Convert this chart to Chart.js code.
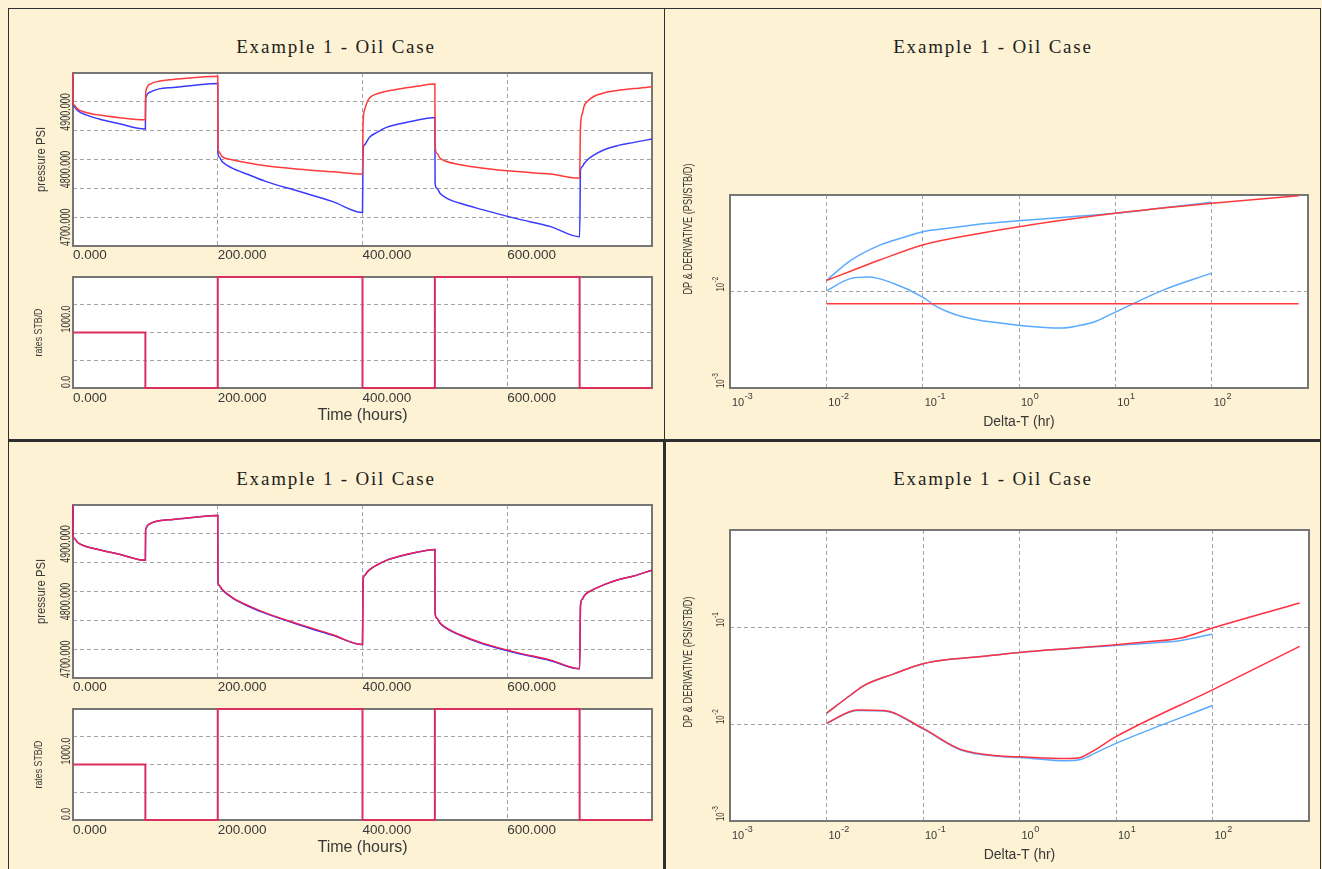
<!DOCTYPE html>
<html><head><meta charset="utf-8">
<script src="https://cdn.jsdelivr.net/npm/chart.js@4/dist/chart.umd.min.js"></script>
<style>
html,body{margin:0;padding:0;background:#fdf2d3;}
body{width:1322px;height:869px;position:relative;overflow:hidden;}
.ln{position:absolute;background:#2e2e2e;}
.title{position:absolute;font-family:'Liberation Serif','Times New Roman',serif;font-size:19px;letter-spacing:1.8px;color:#1e1e1e;transform:translate(-50%,-50%);white-space:nowrap;}
canvas{position:absolute;}
</style></head><body>
<div class="ln" style="left:8px;top:8px;width:1313px;height:1px;"></div>
<div class="ln" style="left:8px;top:8px;width:1px;height:861px;"></div>
<div class="ln" style="left:1320px;top:8px;width:1px;height:861px;"></div>
<div class="ln" style="left:664px;top:8px;width:1px;height:432px;"></div>
<div class="ln" style="left:663px;top:440px;width:3px;height:429px;"></div>
<div class="ln" style="left:8px;top:439px;width:1313px;height:3px;"></div>
<div class="title" style="left:336px;top:47px;">Example 1 - Oil Case</div>
<div class="title" style="left:993px;top:47px;">Example 1 - Oil Case</div>
<div class="title" style="left:336px;top:479px;">Example 1 - Oil Case</div>
<div class="title" style="left:993px;top:479px;">Example 1 - Oil Case</div>
<script>
// ---------- DATA ----------
// time (hours) samples used for the pressure histories
const timeHours = [0,0.1,1.2,6,17,36,64,100,
  100.3,101,103,108,119,138,165,200,
  200.3,201.5,206,220,243,266,313,359,400,
  400.8,403,406,410,420,433,452,475,500,
  500.3,502.6,507,516,535,567,614,660,700,
  701.2,704,706,711,720,734,752,775,800];
// top-left pressure (psi)
const pressureTopRed = [5000,4951,4945,4937.7,4932,4927,4922.6,4919,
  4960,4970,4977,4981.7,4985.8,4988.7,4991.6,4994.5,
  4876,4864,4855,4849.6,4843.8,4839,4833,4828.7,4824.7,
  4913,4936.5,4948,4957,4964,4968.5,4972.5,4977,4981,
  4875.6,4861,4852.5,4846.6,4841,4835,4829,4824.7,4817.7,
  4907.5,4930.7,4942,4951,4959.7,4965.6,4969.6,4973,4976];
const pressureTopBlue = [5000,4948,4942,4935.3,4927.8,4920.3,4912,4903,
  4951,4958.6,4963.8,4967.8,4972.5,4974.8,4978.3,4981.7,
  4861,4855,4846.6,4835,4823.5,4812,4794.5,4777,4758,
  4867,4875.6,4881.4,4889,4897,4905.8,4912,4918,4923,
  4809,4800,4791.6,4783,4774,4762.6,4747,4733.6,4716,
  4832,4838,4842.6,4849.6,4858,4867,4874,4879.7,4885.5];
// bottom-left pressure (psi)
const pressureBotRed = [5000,4949,4943,4935.5,4928.5,4922.5,4914.5,4904,
  4955,4960,4964.5,4968.5,4972.5,4975,4978.5,4982,
  4871,4862,4854,4840,4825,4813,4793,4775,4758,
  4871,4878,4883,4888,4896,4904,4911.5,4918,4923,
  4813,4804,4796,4787,4775,4760,4744,4731,4716,
  4826,4837,4842,4848,4854,4862,4870,4877,4887];
const pressureBotBlue = [5000,4949,4943,4935.5,4928.5,4922.5,4914.5,4904,
  4955,4960,4964.5,4968.5,4972.5,4975,4978.5,4982,
  4870,4861,4853,4839,4824,4812,4792,4774,4758,
  4871,4878,4883,4888,4896,4904,4911,4918,4923,
  4813,4804,4795,4786,4774,4759,4743,4730,4716,
  4826,4837,4842,4848,4854,4862,4870,4877,4887];
// rate history (STB/D), each rate starts at the listed time
const rateTimes = [0,100,200,400,500,700,800];
const rates = [1000,0,2000,0,2000,0,0];
// axis ticks and labels
const timeTicks = [0,200,400,600];
const timeTickLabels = ['0.000','200.000','400.000','600.000'];
const pressureTicks = [4700,4800,4900];
const pressureTickLabels = ['4700.000','4800.000','4900.000'];
const rateTicks = [0,1000];
const rateTickLabels = ['0.0','1000.0'];
const logXExponents = [-3,-2,-1,0,1,2];
const logYExponentsTop = [-3,-2];
const logYExponentsBot = [-3,-2,-1];
// top-right log-log (Delta-T hr, psi/STB/D)
const dtTopBlueUp = [0.01,0.0178,0.0364,0.063,0.1,0.2,0.4,1,3,10,30,100];
const dpTopBlueUp = [0.0130,0.0209,0.0304,0.0363,0.0417,0.0457,0.0501,0.0542,0.0589,0.0646,0.0733,0.0841];
const dtTopRedUp = [0.01,0.0178,0.0364,0.1,0.4,1,10,100,800];
const dpTopRedUp = [0.0130,0.0162,0.0213,0.0304,0.0402,0.0470,0.0646,0.0820,0.0984];
const dtTopBlueLow = [0.01,0.0178,0.0275,0.05,0.1,0.13,0.179,0.267,0.4,0.64,1,2.7,4.3,6,10,31.8,100];
const derTopBlueLow = [0.01016,0.0136,0.0141,0.0121,0.00875,0.00728,0.00621,0.00543,0.00500,0.00471,0.00446,0.00418,0.00446,0.00483,0.00612,0.0104,0.0155];
const dtTopRedLow = [0.01,800];
const derTopRedLow = [0.00746,0.00746];
// bottom-right log-log
const dtBotUpRed = [0.01,0.0178,0.0244,0.05,0.1,0.2,0.4,1,10,20,47.3,100,800];
const dpBotUpRed = [0.0129,0.0199,0.0249,0.0329,0.0418,0.0467,0.0497,0.0546,0.0656,0.0700,0.0769,0.0977,0.177];
const dtBotUpBlue = [0.01,0.0178,0.0244,0.05,0.1,0.2,0.4,1,10,20,47.3,100];
const dpBotUpBlue = [0.0129,0.0199,0.0249,0.0329,0.0418,0.0467,0.0497,0.0546,0.0646,0.0676,0.0727,0.0847];
const dtBotLowRed = [0.01,0.0208,0.0394,0.1,0.246,0.64,1,3.12,4.3,5,6,10,100,800];
const derBotLowRed = [0.01016,0.01396,0.01374,0.00902,0.00547,0.00467,0.00459,0.00442,0.00452,0.00485,0.00538,0.0074,0.0225,0.0631];
const dtBotLowBlue = [0.01,0.0208,0.0394,0.1,0.246,0.64,1,3.12,4.3,5,6,10,100];
const derBotLowBlue = [0.01016,0.0138,0.0136,0.0089,0.0054,0.00462,0.00452,0.00418,0.00431,0.00455,0.00498,0.00631,0.0155];

// ---------- RENDERING ----------
const F = "'Liberation Sans', Arial, sans-serif";
const GRID = '#a3a3a3';
const pts = (xs, ys) => xs.map((x, i) => ({x, y: ys[i]}));

const labelPlugin = {
  id: 'axisLabels',
  beforeDraw(chart, args, o) {
    if (!o || !o.kind) return;
    const ctx = chart.ctx, a = chart.chartArea;
    ctx.save(); ctx.fillStyle = '#ffffff';
    ctx.fillRect(a.left, a.top, a.right - a.left, a.bottom - a.top); ctx.restore();
  },
  beforeDatasetsDraw(chart, args, o) {
    if (!o || !o.kind) return;
    const ctx = chart.ctx, a = chart.chartArea;
    ctx.save(); ctx.strokeStyle = '#767676'; ctx.lineWidth = 2;
    ctx.strokeRect(a.left, a.top, a.right - a.left, a.bottom - a.top); ctx.restore();
  },
  afterDraw(chart, args, o) {
    if (!o || !o.kind) return;
    const ctx = chart.ctx, a = chart.chartArea, xs = chart.scales.x, ys = chart.scales.y;
    ctx.save();
    ctx.fillStyle = '#383838';
    if (o.kind === 'lin') {
      ctx.font = `13.5px ${F}`; ctx.textAlign = 'left'; ctx.textBaseline = 'top';
      o.xTicks.forEach((v, i) => ctx.fillText(o.xLabels[i], xs.getPixelForValue(v), a.bottom + o.xDy));
      o.yTicks.forEach((v, i) => {
        ctx.save(); ctx.translate(a.left - 3, ys.getPixelForValue(v)); ctx.rotate(-Math.PI / 2); ctx.scale(o.ySq, 1);
        ctx.font = o.yFont; ctx.textAlign = 'left'; ctx.textBaseline = 'alphabetic';
        ctx.fillText(o.yLabels[i], 0, 0); ctx.restore();
      });
    } else {
      ctx.textAlign = 'left'; ctx.textBaseline = 'alphabetic';
      o.xExp.forEach(e => {
        const px = xs.getPixelForValue(Math.pow(10, e)) + 2;
        ctx.font = `11px ${F}`; ctx.fillText('10', px, a.bottom + 18);
        const w = ctx.measureText('10').width;
        ctx.font = `9px ${F}`; ctx.fillText(String(e), px + w + 0.5, a.bottom + 11);
      });
      o.yExp.forEach(e => {
        ctx.save(); ctx.translate(a.left - 6, ys.getPixelForValue(Math.pow(10, e))); ctx.rotate(-Math.PI / 2); ctx.scale(0.68, 1);
        ctx.font = `11.5px ${F}`; ctx.fillText('10', 0, 0);
        const w = ctx.measureText('10').width;
        ctx.font = `9.5px ${F}`; ctx.fillText(String(e), w + 0.5, -6.5);
        ctx.restore();
      });
    }
    ctx.save(); ctx.translate(o.yTitleX, o.yTitleY); ctx.rotate(-Math.PI / 2); ctx.scale(o.yTitleSq, 1);
    ctx.font = o.yTitleFont; ctx.textAlign = 'center'; ctx.textBaseline = 'middle';
    ctx.fillText(o.yTitle, 0, 0); ctx.restore();
    if (o.xTitle) {
      ctx.font = o.xTitleFont; ctx.textAlign = 'center'; ctx.textBaseline = 'middle';
      ctx.fillText(o.xTitle, (a.left + a.right) / 2, a.bottom + o.xTitleDy);
    }
    ctx.restore();
  }
};
Chart.register(labelPlugin);

function makeCanvas(x, y, w, h) {
  const c = document.createElement('canvas');
  c.width = w; c.height = h;
  c.style.left = x + 'px'; c.style.top = y + 'px';
  c.style.width = w + 'px'; c.style.height = h + 'px';
  document.body.appendChild(c);
  return c;
}
const decadeTicks = s => { const t = []; for (let e = Math.round(Math.log10(s.min)); e <= Math.round(Math.log10(s.max)); e++) t.push({value: Math.pow(10, e)}); s.ticks = t; };

function linAxis(min, max, step) {
  return {type: 'linear', min, max, ticks: {display: false, stepSize: step},
    grid: {color: GRID, lineWidth: 1, drawTicks: false}, border: {display: false, dash: [4, 3]}};
}
function logAxis(min, max) {
  return {type: 'logarithmic', min, max, ticks: {display: false}, afterBuildTicks: decadeTicks,
    grid: {color: GRID, lineWidth: 1, drawTicks: false}, border: {display: false, dash: [4, 3]}};
}
// datasets listed first are drawn on top
function line(data, color, width) {
  return {data, borderColor: color, borderWidth: width || 1.5, pointRadius: 0, fill: false,
    cubicInterpolationMode: 'monotone', clip: 3};
}
function baseOpts(pad, scales, labels) {
  return {responsive: false, animation: false, devicePixelRatio: 1,
    layout: {padding: pad}, scales,
    plugins: {legend: {display: false}, tooltip: {enabled: false}, title: {display: false}, axisLabels: labels}};
}

function pressureChart(off, blue, red, blueColor, redColor) {
  const c = makeCanvas(10, 62 + off, 652, 206);
  new Chart(c, {type: 'line',
    data: {datasets: [line(pts(timeHours, red), redColor), line(pts(timeHours, blue), blueColor)]},
    options: baseOpts({left: 63, top: 11, right: 10, bottom: 22},
      {x: linAxis(0, 800, 200), y: linAxis(4700, 5000, 50)},
      {kind: 'lin', xTicks: timeTicks, xLabels: timeTickLabels, xDy: 3,
       yTicks: pressureTicks, yLabels: pressureTickLabels, yFont: `15px ${F}`, ySq: 0.6,
       yTitle: 'pressure PSI', yTitleX: 32, yTitleY: 97.5, yTitleFont: `12.5px ${F}`, yTitleSq: 0.9})});
}
function rateChart(off) {
  const c = makeCanvas(10, 268 + off, 652, 170);
  const ds = line(pts(rateTimes, rates), '#d9305f', 2);
  ds.stepped = 'before'; ds.cubicInterpolationMode = 'default'; ds.clip = 4;
  new Chart(c, {type: 'line', data: {datasets: [ds]},
    options: baseOpts({left: 63, top: 9, right: 10, bottom: 50},
      {x: linAxis(0, 800, 200), y: linAxis(0, 2000, 500)},
      {kind: 'lin', xTicks: timeTicks, xLabels: timeTickLabels, xDy: 4,
       yTicks: rateTicks, yLabels: rateTickLabels, yFont: `13px ${F}`, ySq: 0.68,
       yTitle: 'rates STB/D', yTitleX: 29, yTitleY: 64.5, yTitleFont: `11px ${F}`, yTitleSq: 0.8,
       xTitle: 'Time (hours)', xTitleFont: `16px ${F}`, xTitleDy: 28})});
}

pressureChart(0, pressureTopBlue, pressureTopRed, '#3a3aff', '#ff3a3a');
rateChart(0);
pressureChart(432, pressureBotBlue, pressureBotRed, '#3030ff', '#f02055');
rateChart(432);

// top-right log-log
new Chart(makeCanvas(667, 100, 650, 338), {type: 'line',
  data: {datasets: [
    line(pts(dtTopRedUp, dpTopRedUp), '#ff3a3a'),
    line(pts(dtTopRedLow, derTopRedLow), '#ff3a3a'),
    line(pts(dtTopBlueUp, dpTopBlueUp), '#5aaaff'),
    line(pts(dtTopBlueLow, derTopBlueLow), '#5aaaff')]},
  options: baseOpts({left: 63, top: 95, right: 9, bottom: 50},
    {x: logAxis(1e-3, 1e3), y: logAxis(1e-3, 1e-1)},
    {kind: 'log', xExp: logXExponents, yExp: logYExponentsTop,
     yTitle: 'DP & DERIVATIVE (PSI/STB/D)', yTitleX: 22, yTitleY: 129, yTitleFont: `12.5px ${F}`, yTitleSq: 0.74,
     xTitle: 'Delta-T (hr)', xTitleFont: `14px ${F}`, xTitleDy: 34})});

// bottom-right log-log
new Chart(makeCanvas(667, 500, 650, 368), {type: 'line',
  data: {datasets: [
    line(pts(dtBotUpRed, dpBotUpRed), '#ff3040'),
    line(pts(dtBotLowRed, derBotLowRed), '#ff3040'),
    line(pts(dtBotUpBlue, dpBotUpBlue), '#5aaaff'),
    line(pts(dtBotLowBlue, derBotLowBlue), '#5aaaff')]},
  options: baseOpts({left: 63, top: 30, right: 8, bottom: 47},
    {x: logAxis(1e-3, 1e3), y: logAxis(1e-3, 1)},
    {kind: 'log', xExp: logXExponents, yExp: logYExponentsBot,
     yTitle: 'DP & DERIVATIVE (PSI/STB/D)', yTitleX: 22, yTitleY: 162, yTitleFont: `12.5px ${F}`, yTitleSq: 0.74,
     xTitle: 'Delta-T (hr)', xTitleFont: `14px ${F}`, xTitleDy: 34})});
</script>
</body></html>
